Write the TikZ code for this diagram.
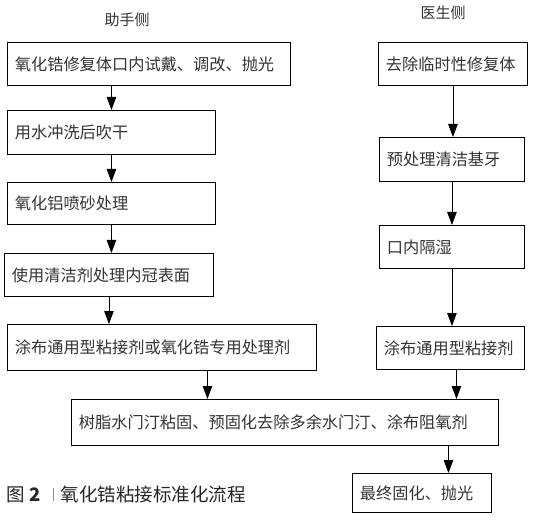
\documentclass[tikz,border=0pt]{standalone}
\usepackage{fontspec}
\newfontfamily\cjk{Noto Sans CJK SC}
\usetikzlibrary{arrows.meta,calc}
\tikzset{
  box/.style={draw=black, line width=0.9pt, anchor=north west, inner xsep=7.5pt, inner ysep=0pt,
    align=left, text=black!80, font=\cjk\fontsize{16.2}{19}\selectfont},
  arr/.style={line width=0.9pt, -{Triangle[length=13pt,width=9.5pt]}},
  head/.style={text=black!80, font=\cjk\fontsize{15}{17}\selectfont}
}
\begin{document}
\begin{tikzpicture}[x=1pt,y=-1pt]
\useasboundingbox (0,0) rectangle (538,521);
\node[head] (hA) at (127,20) {助手侧};
\node[head] (hD) at (443,13) {医生侧};
% left column
\node[box, text width=268pt, minimum height=43pt] (L1) at (7,42) {氧化锆修复体口内试戴、调改、抛光};
\node[box, text width=193pt, minimum height=44pt] (L2) at (7,110) {用水冲洗后吹干};
\node[box, text width=193pt, minimum height=42pt] (L3) at (7,182) {氧化铝喷砂处理};
\node[box, text width=194pt, minimum height=43pt] (L4) at (4,253) {使用清洁剂处理内冠表面};
\node[box, text width=294pt, minimum height=46pt] (L5) at (7,324) {涂布通用型粘接剂或氧化锆专用处理剂};
% right column
\node[box, text width=134pt, minimum height=43pt] (R1) at (378,42) {去除临时性修复体};
\node[box, text width=130pt, minimum height=44pt] (R2) at (379,137) {预处理清洁基牙};
\node[box, text width=130pt, minimum height=43pt] (R3) at (379,225) {口内隔湿};
\node[box, text width=133pt, minimum height=43pt] (R4) at (376,326) {涂布通用型粘接剂};
% merge and final
\node[box, text width=412pt, minimum height=46pt] (M) at (71,399) {树脂水门汀粘固、预固化去除多余水门汀、涂布阻氧剂};
\node[box, text width=124pt, minimum height=39pt] (F) at (352,473) {最终固化、抛光};
% caption
\node[anchor=west, inner sep=0pt, text=black!85, font=\cjk\fontsize{18.5}{21}\selectfont] (cap) at (6,494)
  {图\hspace{5pt}\textbf{2}\hspace{12pt}{\color{black!45}\rule[0pt]{0.7pt}{13pt}}\hspace{7pt}氧化锆粘接标准化流程};
% arrows left
\draw[arr] (L1.south -| L2.north) -- (L2.north);
\draw[arr] (L2.south) -- (L3.north);
\draw[arr] (L3.south) -- (L3.south |- L4.north);
\draw[arr] (L4.south) -- (L4.south |- L5.north);
% arrows right
\draw[arr] (R1.south) -- (R1.south |- R2.north);
\draw[arr] (R2.south) -- (R2.south |- R3.north);
\draw[arr] (R3.south) -- (R3.south |- R4.north);
% merge
\draw[arr] ([xshift=45.5pt]L5.south) -- ([xshift=45.5pt]L5.south |- M.north);
\draw[arr] ([xshift=6pt]R4.south) -- ([xshift=6pt]R4.south |- M.north);
\draw[arr] ([xshift=26.5pt]F.north |- M.south) -- ([xshift=26.5pt]F.north);
\end{tikzpicture}
\end{document}
